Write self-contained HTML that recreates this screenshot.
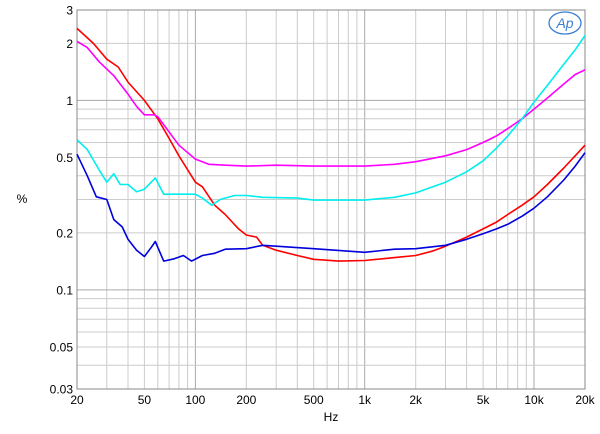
<!DOCTYPE html>
<html><head><meta charset="utf-8"><style>
body{margin:0;background:#fff;width:600px;height:434px;overflow:hidden}
svg{display:block;font-family:"Liberation Sans",sans-serif}
</style></head><body>
<svg id="s" width="600" height="434" viewBox="0 0 600 434"></svg>
<script>
const L=77,R=585,T=10,B=389;
const X=f=>L+(Math.log10(f/20))*(R-L)/3;
const Y=v=>T+(Math.log10(3/v))*(B-T)/2;
let h='';
let fs=[];for(let d of [10,100,1000,10000])for(let k=1;k<10;k++){let f=d*k;if(f>20&&f<20000)fs.push(f);}
for(const f of fs){const x=X(f).toFixed(1);const maj=[100,1000,10000].includes(f);h+=`<line x1="${x}" y1="${T}" x2="${x}" y2="${B}" stroke="${maj?'#aaa':'#ccc'}" stroke-width="1"/>`;}
let vs=[];for(let d of [0.01,0.1,1])for(let k=1;k<10;k++){let v=+(d*k).toFixed(3);if(v>0.03&&v<3)vs.push(v);}
for(const v of vs){const y=Y(v).toFixed(1);h+=`<line x1="${L}" y1="${y}" x2="${R}" y2="${y}" stroke="${[0.1,1].includes(v)?'#aaa':'#ccc'}" stroke-width="1"/>`;}
h+=`<rect x="${L}" y="${T}" width="${R-L}" height="${B-T}" fill="none" stroke="#888"/>`;
for(const [v,t] of [[3,'3'],[2,'2'],[1,'1'],[0.5,'0.5'],[0.2,'0.2'],[0.1,'0.1'],[0.05,'0.05'],[0.03,'0.03']])h+=`<text x="73" y="${Y(v)+4.5}" font-size="12" text-anchor="end">${t}</text>`;
for(const [f,t] of [[20,'20'],[50,'50'],[100,'100'],[200,'200'],[500,'500'],[1000,'1k'],[2000,'2k'],[5000,'5k'],[10000,'10k'],[20000,'20k']])h+=`<text x="${X(f)}" y="404" font-size="12" text-anchor="middle">${t}</text>`;
h+=`<text x="331" y="421" font-size="12" text-anchor="middle">Hz</text><text x="22" y="203" font-size="12" text-anchor="middle">%</text>`;
h+=`<ellipse cx="565" cy="23" rx="16" ry="11" fill="none" stroke="#3a7fd0" stroke-width="1.3"/><text x="565" y="28" font-size="14" font-style="italic" fill="#3a7fd0" text-anchor="middle">Ap</text>`;
const S={
'#ff0000':[[20,2.4],[25,2.0],[30,1.65],[35,1.5],[40,1.25],[50,1.0],[60,0.8],[70,0.63],[80,0.51],[100,0.37],[110,0.35],[130,0.28],[150,0.25],[180,0.21],[200,0.195],[230,0.19],[250,0.172],[300,0.162],[400,0.152],[500,0.145],[700,0.142],[1000,0.143],[1500,0.148],[2000,0.152],[2500,0.16],[3000,0.17],[4000,0.19],[5000,0.21],[6000,0.228],[7000,0.25],[8500,0.28],[10000,0.31],[12000,0.36],[15000,0.44],[17500,0.51],[20000,0.58]],
'#ff00ff':[[20,2.05],[23,1.9],[27,1.6],[33,1.35],[40,1.08],[45,0.93],[50,0.84],[57,0.84],[60,0.82],[80,0.58],[100,0.49],[120,0.46],[150,0.455],[200,0.45],[300,0.455],[500,0.45],[1000,0.45],[1500,0.46],[2000,0.475],[3000,0.51],[4000,0.55],[5000,0.6],[6000,0.65],[7000,0.71],[8500,0.8],[10000,0.9],[12000,1.03],[15000,1.22],[17500,1.37],[20000,1.45]],
'#00eeee':[[20,0.62],[23,0.55],[27,0.43],[30,0.37],[33,0.41],[36,0.36],[40,0.36],[45,0.33],[50,0.34],[58,0.39],[65,0.32],[80,0.32],[100,0.32],[110,0.305],[125,0.28],[140,0.3],[170,0.315],[200,0.315],[250,0.308],[400,0.305],[500,0.298],[1000,0.298],[1500,0.308],[2000,0.325],[3000,0.37],[4000,0.42],[5000,0.48],[6000,0.56],[7000,0.65],[8500,0.8],[10000,0.98],[12000,1.2],[15000,1.55],[17500,1.85],[20000,2.2]],
'#0000dd':[[20,0.52],[23,0.4],[26,0.31],[30,0.3],[33,0.235],[37,0.215],[40,0.185],[45,0.162],[50,0.15],[55,0.168],[58,0.18],[65,0.142],[75,0.146],[85,0.152],[95,0.142],[110,0.152],[130,0.156],[150,0.164],[200,0.165],[250,0.172],[300,0.17],[500,0.165],[1000,0.158],[1500,0.164],[2000,0.165],[3000,0.172],[4000,0.185],[5000,0.198],[6000,0.21],[7000,0.222],[8500,0.245],[10000,0.27],[12000,0.31],[15000,0.38],[17500,0.45],[20000,0.53]]};
for(const c in S)h+=`<polyline fill="none" stroke="${c}" stroke-width="1.6" stroke-linejoin="round" points="${S[c].map(p=>X(p[0]).toFixed(1)+','+Y(p[1]).toFixed(1)).join(' ')}"/>`;
document.getElementById('s').innerHTML=h;
</script>
</body></html>
